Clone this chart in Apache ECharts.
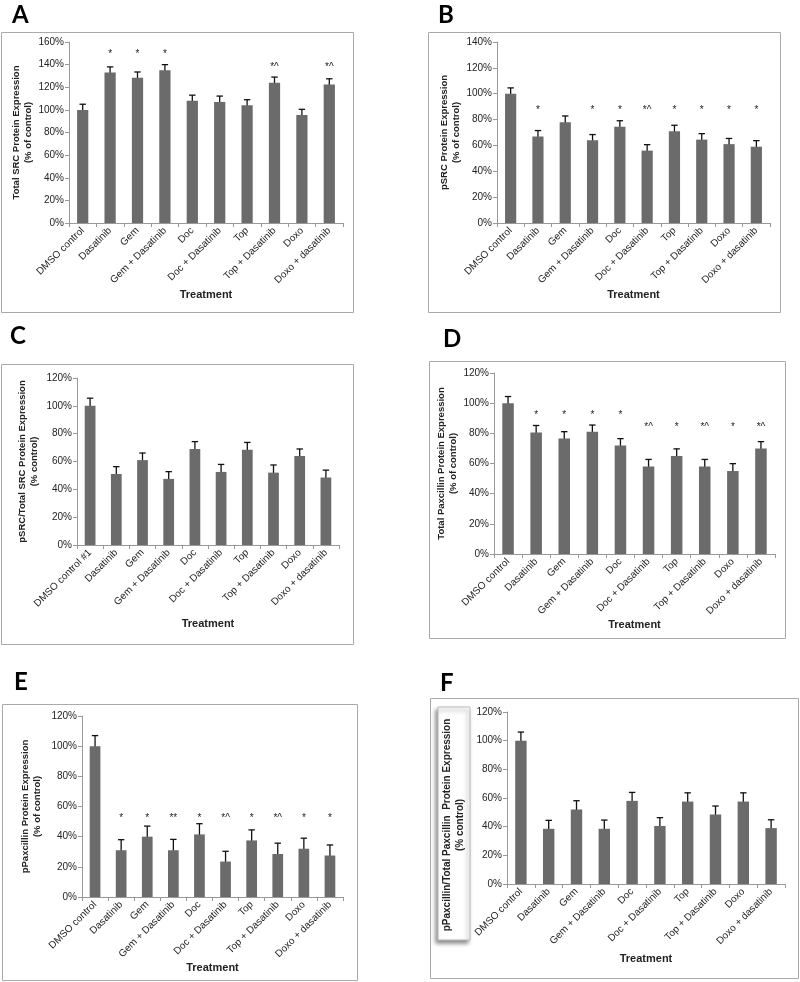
<!DOCTYPE html>
<html><head><meta charset="utf-8">
<script src="https://cdn.jsdelivr.net/npm/echarts@6/dist/echarts.min.js"></script>
<style>html,body{margin:0;padding:0;background:#fff}#c{width:800px;height:982px}</style>
</head><body><div id="c"></div>
<script>
// ---------- data ----------
const cats = ['DMSO control','Dasatinib','Gem','Gem + Dasatinib','Doc','Doc + Dasatinib','Top','Top + Dasatinib','Doxo','Doxo + dasatinib'];
const catsC = ['DMSO control #1','Dasatinib','Gem','Gem + Dasatinib','Doc','Doc + Dasatinib','Top','Top + Dasatinib','Doxo','Doxo + dasatinib'];

const valsA = [100,133,128.5,135,108,107,104,124,95.5,122.5];
const errA  = [5,5,5,5,5,5.2,5,5,5,5];
const sigA  = ['','*','*','*','','','','*^','','*^'];
const sigYA = [null,149,149,149,null,null,null,138,null,138];

const valsB = [100,67,78,64,74.5,56,71,64.5,61,59];
const errB  = [4.5,4.5,4.8,4.4,4.6,4.6,4.6,4.6,4.4,4.7];
const sigB  = ['','*','','*','*','*^','*','*','*','*'];
const sigYB = [null,87,null,87,87,87,87,87,87,87];

const valsC = [100,51,61,47.5,69,52.5,68.5,52,64,48.5];
const errC  = [5.5,5.3,5.1,5.2,5.3,5.4,5.2,5.5,5,5.3];

const valsD = [100,80.5,76.5,81,72,58,65,58,55,70];
const errD  = [4.4,4.7,4.6,4.5,4.5,4.7,4.7,4.7,4.9,4.5];
const sigD  = ['','*','*','*','*','*^','*','*^','*','*^'];
const sigYD = [null,92,92,92,92,84,84,84,84,84];

const valsE = [100,31,40,31,41.5,23.5,37.5,28.5,32,27.5];
const errE  = [7,7,7,7.2,7.1,6.8,7,7.2,7,7];
const sigE  = ['','*','*','**','*','*^','*','*^','*','*'];
const sigYE = [null,52,52,52,52,52,52,52,52,52];

const valsF = [100,38.5,52,38.5,58,40.5,57.5,48.5,57.5,39];
const errF  = [6,5.9,6.1,6.1,5.9,5.8,6.1,5.9,6.1,5.8];

// ---------- layout ----------
const FONT = '"Liberation Sans", Arial, sans-serif';
const panels = [
  {cats:cats,  vals:valsA, errs:errA, sig:sigA, sigY:sigYA, max:160, grid:{left:69, top:42, width:274, height:181}, yName:'Total SRC Protein Expression\n(% of control)', yGap:34, xGap:66},
  {cats:cats,  vals:valsB, errs:errB, sig:sigB, sigY:sigYB, max:140, grid:{left:497,top:42, width:273, height:181}, yName:'pSRC Protein Expression\n(% of control)', yGap:32, xGap:66},
  {cats:catsC, vals:valsC, errs:errC, sig:null, sigY:null,  max:120, grid:{left:77, top:378,width:262, height:167}, yName:'pSRC/Total SRC Protein Expression\n(% control)', yGap:37, xGap:73},
  {cats:cats,  vals:valsD, errs:errD, sig:sigD, sigY:sigYD, max:120, grid:{left:494,top:373,width:281, height:181}, yName:'Total Paxcillin Protein Expression\n(% of control)', yGap:32, xGap:62},
  {cats:cats,  vals:valsE, errs:errE, sig:sigE, sigY:sigYE, max:120, grid:{left:82, top:716,width:261, height:181}, yName:'pPaxcillin Protein Expression\n(% of control)', yGap:39, xGap:61},
  {cats:cats,  vals:valsF, errs:errF, sig:null, sigY:null,  max:120, grid:{left:507,top:712,width:278, height:172}, yName:'', yGap:37, xGap:69}
];

const grids=[], xAxes=[], yAxes=[], series=[];
panels.forEach((p,k)=>{
  grids.push(Object.assign({containLabel:false}, p.grid));
  xAxes.push({type:'category', gridIndex:k, data:p.cats,
    name:'Treatment', nameLocation:'middle', nameGap:p.xGap,
    nameTextStyle:{fontFamily:FONT, fontWeight:'bold', fontSize:11, color:'#222'},
    axisLine:{lineStyle:{color:'#999', width:1}},
    axisTick:{show:true, length:4, alignWithLabel:false, lineStyle:{color:'#999'}},
    axisLabel:{rotate:45, interval:0, fontFamily:FONT, fontSize:10, color:'#222', margin:6}
  });
  yAxes.push({type:'value', gridIndex:k, min:0, max:p.max, interval:20,
    name:p.yName, nameLocation:'middle', nameRotate:90, nameGap:p.yGap,
    nameTextStyle:{fontFamily:FONT, fontWeight:'bold', fontSize:9.5, color:'#222', lineHeight:12},
    axisLine:{show:true, lineStyle:{color:'#999'}},
    axisTick:{show:true, length:4, lineStyle:{color:'#999'}},
    splitLine:{show:false},
    axisLabel:{formatter:'{value}%', fontFamily:FONT, fontSize:10, color:'#222', margin:5}
  });
  series.push({type:'bar', xAxisIndex:k, yAxisIndex:k, data:p.vals, barWidth:'41%',
    itemStyle:{color:'#6b6b6b'}, silent:true, animation:false});
  series.push({type:'custom', xAxisIndex:k, yAxisIndex:k, animation:false, silent:true,
    data:p.vals.map((v,i)=>[i, v, p.errs[i]]),
    renderItem:(params, api)=>{
      const i=api.value(0), v=api.value(1), e=api.value(2);
      const hi=api.coord([i, v+e]), lo=api.coord([i, v-e]);
      const w=3.2, st={stroke:'#111', lineWidth:1.3};
      return {type:'group', children:[
        {type:'line', shape:{x1:hi[0],y1:hi[1],x2:lo[0],y2:lo[1]}, style:st},
        {type:'line', shape:{x1:hi[0]-w,y1:hi[1],x2:hi[0]+w,y2:hi[1]}, style:st},
        {type:'line', shape:{x1:lo[0]-w,y1:lo[1],x2:lo[0]+w,y2:lo[1]}, style:st}
      ]};
    }
  });
  if(p.sig){
    const sd=[]; p.sig.forEach((s,i)=>{ if(s) sd.push([i, p.sigY[i], s]); });
    series.push({type:'custom', xAxisIndex:k, yAxisIndex:k, animation:false, silent:true,
      data:sd.map(d=>[d[0],d[1]]),
      renderItem:(params, api)=>{
        const pt=api.coord([api.value(0), api.value(1)]);
        return {type:'text', x:pt[0], y:pt[1], style:{text:sd[params.dataIndex][2], fill:'#222',
          font:'10px '+FONT, textAlign:'center', textVerticalAlign:'middle'}};
      }
    });
  }
});

const frame = (x,y,w,h)=>({type:'rect', shape:{x:x,y:y,width:w,height:h}, style:{fill:'none', stroke:'#aaa', lineWidth:1}, silent:true});
const letter = (t,x,y)=>({type:'text', x:x, y:y, style:{text:t, font:'bold 24px Lato, "Open Sans", sans-serif', fill:'#000', textVerticalAlign:'middle'}, silent:true});

const graphic = [
  frame(1.5,32.5,352,280), frame(428.5,32.5,352,280),
  frame(1.5,364.5,352,280), frame(429.5,361.5,356,277),
  frame(2.5,704.5,355,276), frame(430.5,698.5,368,280),
  letter('A',12,15), letter('B',438,15), letter('C',10,336), letter('D',443,339), letter('E',14,682), letter('F',440,683),
  {type:'rect', shape:{x:438,y:707,width:32,height:233},
   style:{fill:'#fff', stroke:'#bbb', lineWidth:1, shadowBlur:4, shadowOffsetX:-2, shadowOffsetY:3, shadowColor:'rgba(0,0,0,0.45)'}, silent:true},
  {type:'text', x:454, y:825, rotation:Math.PI/2,
   style:{text:'pPaxcillin/Total Paxcillin  Protein Expression\n(% control)', font:'bold 10px '+FONT, fill:'#222',
     textAlign:'center', textVerticalAlign:'middle', lineHeight:13}, silent:true}
];

const chart = echarts.init(document.getElementById('c'), null, {renderer:'canvas'});
chart.setOption({animation:false, backgroundColor:'#fff', grid:grids, xAxis:xAxes, yAxis:yAxes, series:series, graphic:graphic});
</script></body></html>
